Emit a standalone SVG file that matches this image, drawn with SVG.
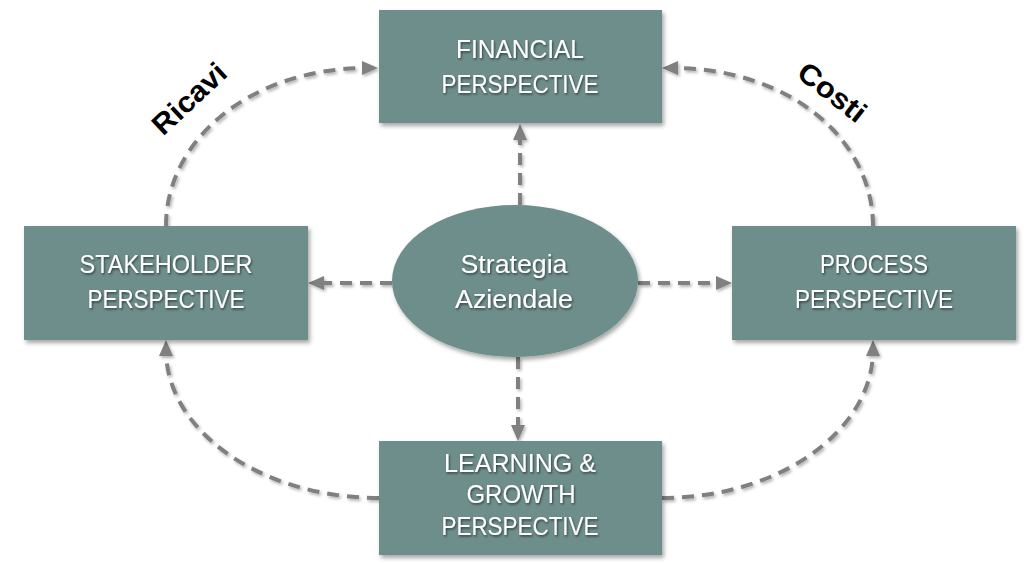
<svg xmlns="http://www.w3.org/2000/svg" width="1024" height="563" viewBox="0 0 1024 563">
  <defs>
    <filter id="sh" x="-10%" y="-10%" width="130%" height="130%">
      <feDropShadow dx="2" dy="3" stdDeviation="2" flood-color="#000" flood-opacity="0.35"/>
    </filter>
    <filter id="lsh" x="-10%" y="-10%" width="130%" height="130%">
      <feDropShadow dx="1.5" dy="2" stdDeviation="1.5" flood-color="#000" flood-opacity="0.3"/>
    </filter>
    <filter id="tsh" x="-10%" y="-20%" width="130%" height="150%">
      <feDropShadow dx="1" dy="1.5" stdDeviation="0.8" flood-color="#000" flood-opacity="0.55"/>
    </filter>
    <marker id="ah" markerUnits="userSpaceOnUse" markerWidth="16" markerHeight="14" refX="6" refY="7" orient="auto">
      <path d="M0,0 L16,7 L0,14 z" fill="#808080"/>
    </marker>
  </defs>
  <style>
    .box { fill: #6E8E8B; }
    .lbl { font-family: "Liberation Sans", Arial, sans-serif; font-size: 26px; fill: #ffffff; text-anchor: middle; }
    .con { fill: none; stroke: #808080; stroke-width: 4; stroke-dasharray: 12 8; marker-end: url(#ah); }
    .side { font-family: "Liberation Sans", Arial, sans-serif; font-size: 29px; font-weight: bold; fill: #000000; text-anchor: middle; }
  </style>
  <rect width="1024" height="563" fill="#ffffff"/>

  <g id="connectors" filter="url(#lsh)">
    <path class="con" d="M520,205 L520,134"/>
    <path class="con" d="M392,283 L318,283"/>
    <path class="con" d="M638,283 L722,283"/>
    <path class="con" d="M518,357 L518,431"/>
    <path class="con" d="M166,226 C166,140 250,68 368,68"/>
    <path class="con" d="M873,226 C873,140 790,68 672,68"/>
    <path class="con" d="M379,498 C260,498 166,430 166,350"/>
    <path class="con" d="M662,498 C780,498 873,430 873,350"/>
  </g>

  <g id="financial">
    <rect class="box" x="379" y="10" width="283" height="113" filter="url(#sh)"/>
    <g filter="url(#tsh)">
      <text class="lbl" x="520" y="58" textLength="128" lengthAdjust="spacingAndGlyphs">FINANCIAL</text>
      <text class="lbl" x="520" y="93" textLength="157" lengthAdjust="spacingAndGlyphs">PERSPECTIVE</text>
    </g>
  </g>

  <g id="stakeholder">
    <rect class="box" x="24" y="226" width="284" height="114" filter="url(#sh)"/>
    <g filter="url(#tsh)">
      <text class="lbl" x="166" y="273" textLength="173" lengthAdjust="spacingAndGlyphs">STAKEHOLDER</text>
      <text class="lbl" x="166" y="308" textLength="157" lengthAdjust="spacingAndGlyphs">PERSPECTIVE</text>
    </g>
  </g>

  <g id="process">
    <rect class="box" x="732" y="226" width="284" height="114" filter="url(#sh)"/>
    <g filter="url(#tsh)">
      <text class="lbl" x="874" y="273" textLength="108" lengthAdjust="spacingAndGlyphs">PROCESS</text>
      <text class="lbl" x="874" y="308" textLength="158" lengthAdjust="spacingAndGlyphs">PERSPECTIVE</text>
    </g>
  </g>

  <g id="learning">
    <rect class="box" x="379" y="441" width="283" height="114" filter="url(#sh)"/>
    <g filter="url(#tsh)">
      <text class="lbl" x="520" y="472" textLength="152" lengthAdjust="spacingAndGlyphs">LEARNING &amp;</text>
      <text class="lbl" x="521" y="503" textLength="109" lengthAdjust="spacingAndGlyphs">GROWTH</text>
      <text class="lbl" x="520" y="535" textLength="157" lengthAdjust="spacingAndGlyphs">PERSPECTIVE</text>
    </g>
  </g>

  <g id="strategia">
    <ellipse class="box" cx="515" cy="281" rx="123" ry="76" filter="url(#sh)"/>
    <g filter="url(#tsh)">
      <text class="lbl" x="514" y="273" textLength="107" lengthAdjust="spacingAndGlyphs">Strategia</text>
      <text class="lbl" x="514" y="308" textLength="118" lengthAdjust="spacingAndGlyphs">Aziendale</text>
    </g>
  </g>

  <g id="labels">
    <text class="side" transform="translate(196,106) rotate(-43)" textLength="90" lengthAdjust="spacingAndGlyphs">Ricavi</text>
    <text class="side" transform="translate(826,100) rotate(38)" textLength="78" lengthAdjust="spacingAndGlyphs">Costi</text>
  </g>
</svg>
